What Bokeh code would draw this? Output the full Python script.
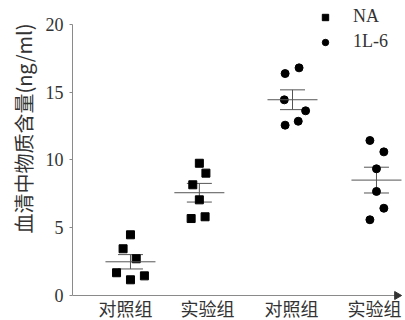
import numpy as np
from math import pi
from bokeh.plotting import figure
from bokeh.models import (ColumnDataSource, FixedTicker, Whisker, TeeHead, Legend,
                          LegendItem, Title)
from bokeh.core.properties import value
from bokeh.embed import file_html
from bokeh.resources import INLINE

# ---- data ----
group_labels = ["对照组", "实验组", "对照组", "实验组"]
na_control = [4.48, 3.45, 2.71, 1.68, 1.16, 1.45]
na_experiment = [9.76, 9.03, 8.17, 7.06, 5.68, 5.81]
il6_control = [16.80, 16.38, 14.44, 13.63, 12.86, 12.57]
il6_experiment = [11.44, 10.60, 9.35, 7.68, 6.44, 5.59]
series_names = ["NA", "1L-6"]
y_ticks = [0, 5, 10, 15, 20]
y_title = "血清中物质含量(ng/ml)"

# ---- layout (positions, not data) ----
cluster_pos = [1.0, 1.84, 2.976, 4.0]
label_pos = [0.94, 1.94, 2.963, 3.976]
jitter = [
    [0.0, -0.09, 0.07, -0.17, 0.0, 0.17],
    [0.0, 0.08, -0.08, 0.0, -0.10, 0.07],
    [0.08, -0.09, -0.10, 0.16, 0.07, -0.09],
    [-0.08, 0.09, 0.0, 0.0, 0.09, -0.08],
]
x_start, x_end = 0.293, 4.354
arrow_tip = 4.25
y_start, y_end = -1.845, 21.771

groups = [na_control, na_experiment, il6_control, il6_experiment]

p = figure(width=405, height=320, output_backend="svg", toolbar_location=None,
           x_range=(x_start, x_end), y_range=(y_start, y_end),
           min_border_left=72, min_border_right=0, min_border_top=0,
           min_border_bottom=0)
p.outline_line_color = None
p.grid.visible = False
p.background_fill_color = "white"
p.xaxis.visible = False

def pts(idxs):
    xs, ys = [], []
    for i in idxs:
        for v, j in zip(groups[i], jitter[i]):
            xs.append(cluster_pos[i] + j)
            ys.append(v)
    return ColumnDataSource(dict(x=xs, y=ys))

# x axis line at y = 0 with a filled arrow head
p.segment(x0=[x_start], x1=[arrow_tip], y0=[0], y1=[0],
          line_color="#8a8a8a", line_width=1)
p.scatter(x=[arrow_tip], y=[0], marker="triangle", angle=-pi / 2, size=8,
          fill_color="#333333", line_color="#333333")

# category labels under the axis
p.text(x=label_pos, y=[0] * len(label_pos), text=group_labels,
       text_align="center", text_baseline="top", y_offset=-1,
       text_font=value("Noto Sans CJK SC"), text_font_size=value("18px"),
       text_color="#333333")

r_na = p.scatter("x", "y", source=pts([0, 1]), marker="square", size=8,
                 fill_color="black", line_color="black")
r_il = p.scatter("x", "y", source=pts([2, 3]), marker="circle", size=8,
                 fill_color="black", line_color="black")

means = [float(np.mean(g)) for g in groups]
sems = [float(np.std(g, ddof=1) / np.sqrt(len(g))) for g in groups]

stat = ColumnDataSource(dict(
    base=cluster_pos,
    x0=[c - 0.305 for c in cluster_pos],
    x1=[c + 0.305 for c in cluster_pos],
    mean=means,
    upper=[m + s for m, s in zip(means, sems)],
    lower=[m - s for m, s in zip(means, sems)],
))
p.segment(x0="x0", x1="x1", y0="mean", y1="mean", source=stat,
          line_color="#555555", line_width=1)
p.add_layout(Whisker(source=stat, base="base", upper="upper", lower="lower",
                     dimension="height", line_color="#555555", line_width=1,
                     upper_head=TeeHead(size=25, line_color="#555555", line_width=1),
                     lower_head=TeeHead(size=25, line_color="#555555", line_width=1)))

# y axis
ax = p.yaxis[0]
ax.ticker = FixedTicker(ticks=y_ticks)
ax.bounds = (0, 20)
ax.minor_tick_line_color = None
ax.major_tick_out = 3
ax.major_tick_in = 0
ax.axis_line_color = "#8a8a8a"
ax.major_tick_line_color = "#8a8a8a"
ax.major_label_text_font = "Liberation Serif"
ax.major_label_text_font_size = "18px"
ax.major_label_text_color = "#333333"
ax.major_label_standoff = 6

p.add_layout(Title(text=y_title, align="right", offset=23,
                   text_font="Noto Sans CJK SC", text_font_size="20px",
                   text_font_style="normal", text_color="#333333"), "left")

legend = Legend(items=[LegendItem(label=series_names[0], renderers=[r_na]),
                       LegendItem(label=series_names[1], renderers=[r_il])],
                location=(245, 268), padding=0, margin=0, spacing=4,
                glyph_width=16, glyph_height=16, label_height=16,
                label_standoff=20, border_line_color=None,
                background_fill_alpha=0,
                label_text_font="Liberation Serif", label_text_font_size="18px",
                label_text_color="#333333")
p.add_layout(legend)

open("out.html", "w").write(file_html(p, INLINE))
